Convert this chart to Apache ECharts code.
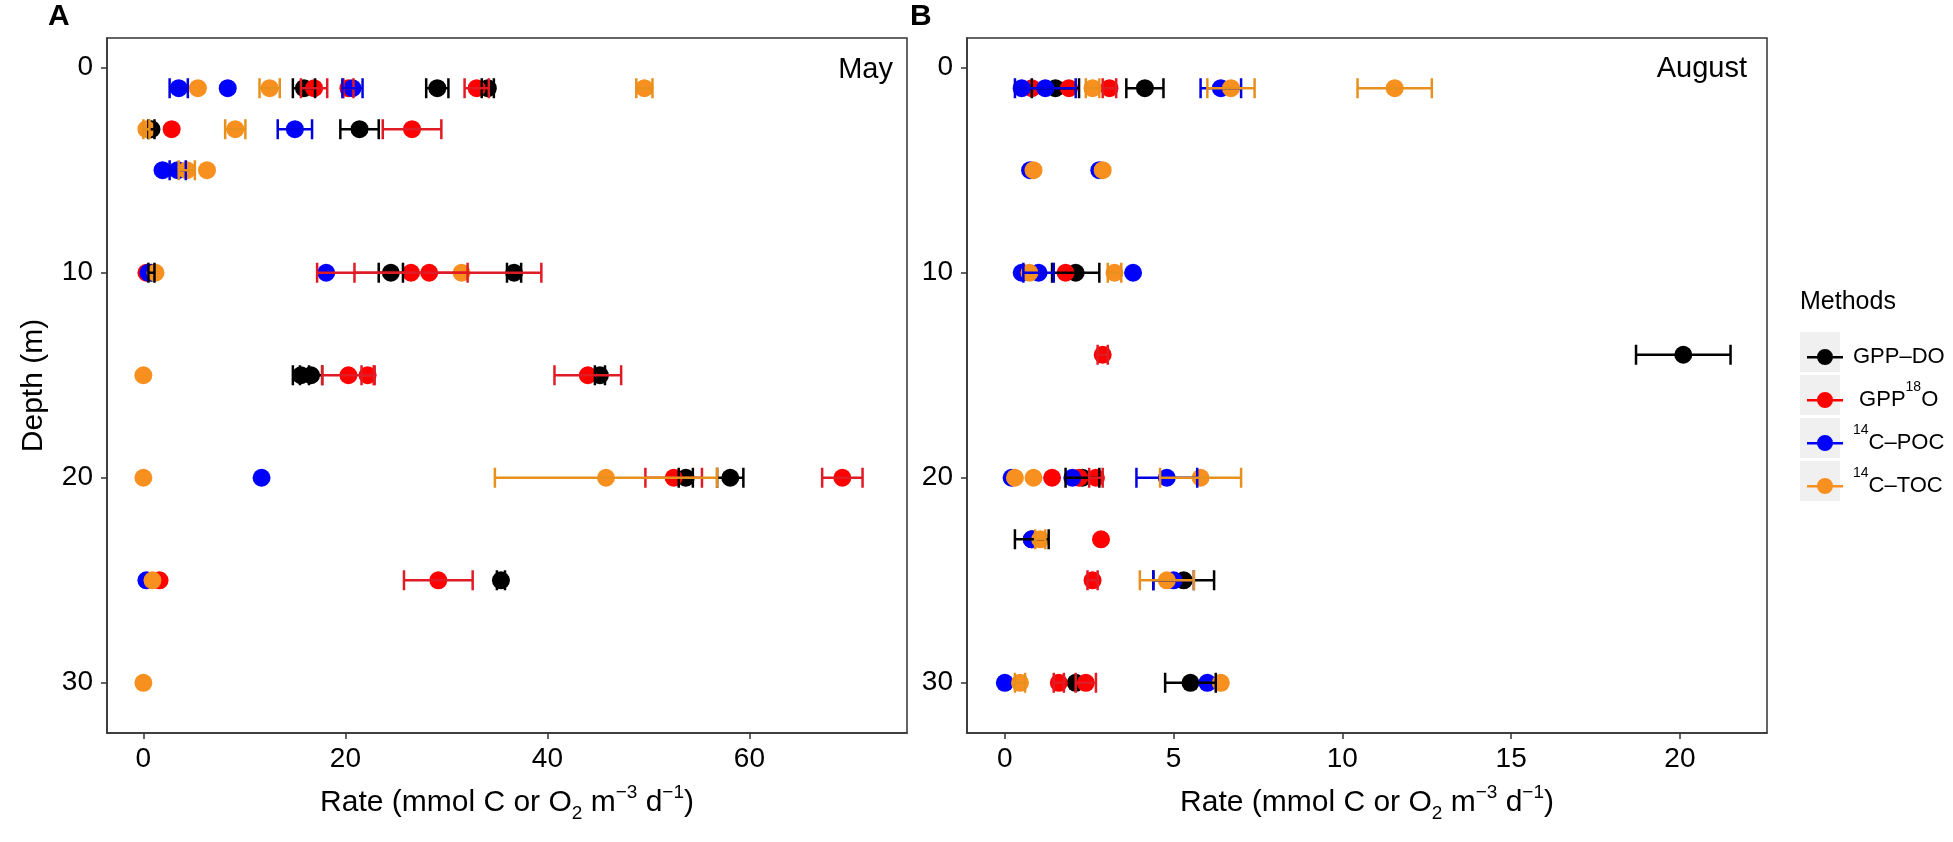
<!DOCTYPE html>
<html>
<head>
<meta charset="utf-8">
<script src="https://cdn.jsdelivr.net/npm/echarts@6/dist/echarts.min.js"></script>
<style>
html,body{margin:0;padding:0;background:#fff;}
#c{width:1953px;height:842px;}
</style>
</head>
<body>
<div id="c"></div>
<script>
// ---- data: [rate, depth, error half-width] ----
const methods = ['GPP-DO', 'GPP18O', '14C-POC', '14C-TOC'];
const methodColors = ['#000000', '#ff0000', '#0000ff', '#f7901e'];
const barColors = ['#000000', '#e01b24', '#0000e0', '#e8901e'];

const depthTicks = [0, 10, 20, 30];
const mayRateTicks = [0, 20, 40, 60];
const augRateTicks = [0, 5, 10, 15, 20];

const mayGppDO = [[15.9,1,1.1],[29.1,1,1.1],[34.1,1,0.6],[0.8,3,0.3],[21.4,3,1.9],[0.8,10,0.3],[24.5,10,1.2],[36.7,10,0.7],[15.6,15,0.8],[16.6,15,1.1],[45.2,15,0.5],[53.7,20,0.7],[58.1,20,1.3],[35.4,25,0.4]];
const mayGpp18O = [[16.9,1,1.3],[20.3,1,0.5],[33.0,1,1.2],[2.8,3,0],[26.6,3,2.9],[0.3,10,0],[26.5,10,5.6],[28.3,10,11.1],[20.3,15,2.6],[22.2,15,0.6],[44.0,15,3.3],[52.5,20,2.8],[69.2,20,2.0],[1.6,25,0],[29.2,25,3.4]];
const may14CPOC = [[3.5,1,0.9],[8.35,1,0],[20.7,1,1.0],[15.0,3,1.7],[1.9,5,0],[3.4,5,0.8],[0.5,10,0],[18.1,10,0],[11.7,20,0],[0.3,25,0]];
const may14CTOC = [[5.4,1,0],[12.5,1,1.0],[49.6,1,0.8],[0.3,3,0.3],[9.1,3,1.0],[4.3,5,0.8],[6.3,5,0],[1.2,10,0],[31.5,10,0],[0.0,15,0],[0.0,20,0],[45.8,20,11.0],[0.9,25,0],[0.0,30,0]];

const augGppDO = [[1.5,1,0.7],[4.15,1,0.55],[2.1,10,0.7],[20.1,14,1.4],[2.3,20,0.5],[0.8,23,0.5],[5.3,25,0.9],[2.1,30,0],[5.5,30,0.75]];
const augGpp18O = [[0.8,1,0],[1.9,1,0],[3.1,1,0.2],[1.8,10,0],[2.9,14,0.15],[1.4,20,0],[2.2,20,0],[2.7,20,0.2],[2.85,23,0],[2.6,25,0.15],[1.6,30,0.15],[2.4,30,0.3]];
const aug14CPOC = [[0.5,1,0],[1.2,1,0.9],[6.4,1,0.6],[0.75,5,0],[2.8,5,0],[0.5,10,0],[1.0,10,0.45],[3.8,10,0],[0.2,20,0],[2.0,20,0],[4.8,20,0.9],[0.8,23,0],[5.0,25,0.6],[0.0,30,0],[6.0,30,0]];
const aug14CTOC = [[2.6,1,0.2],[6.7,1,0.7],[11.55,1,1.1],[0.85,5,0],[2.9,5,0],[0.73,10,0],[3.25,10,0.2],[0.3,20,0],[0.85,20,0],[5.8,20,1.2],[1.05,23,0.15],[4.8,25,0.8],[0.45,30,0.15],[6.4,30,0]];

const mayData = [mayGppDO, mayGpp18O, may14CPOC, may14CTOC];
const augData = [augGppDO, augGpp18O, aug14CPOC, aug14CTOC];

// ---- chart ----
const FONT = 'Liberation Sans, Arial, sans-serif';
const chart = echarts.init(document.getElementById('c'), null, {renderer: 'canvas'});

function errRender(color) {
  return function (params, api) {
    const x = api.value(0), y = api.value(1), e = api.value(2);
    if (!e) return null;
    const p1 = api.coord([x - e, y]);
    const p2 = api.coord([x + e, y]);
    const h = 10;
    const st = {stroke: color, lineWidth: 2.5};
    return {type: 'group', children: [
      {type: 'line', shape: {x1: p1[0], y1: p1[1], x2: p2[0], y2: p2[1]}, style: st},
      {type: 'line', shape: {x1: p1[0], y1: p1[1] - h, x2: p1[0], y2: p1[1] + h}, style: st},
      {type: 'line', shape: {x1: p2[0], y1: p2[1] - h, x2: p2[0], y2: p2[1] + h}, style: st}
    ]};
  };
}

const series = [];
[mayData, augData].forEach(function (panel, pi) {
  panel.forEach(function (arr, mi) {
    series.push({
      type: 'scatter', name: methods[mi], xAxisIndex: pi, yAxisIndex: pi,
      symbol: 'circle', symbolSize: 18, z: 2,
      itemStyle: {color: methodColors[mi], opacity: 1},
      data: arr.map(function (d) { return [d[0], d[1]]; }),
      silent: true, animation: false
    });
  });
  panel.forEach(function (arr, mi) {
    series.push({
      type: 'custom', name: methods[mi], xAxisIndex: pi, yAxisIndex: pi, z: 3,
      renderItem: errRender(barColors[mi]),
      encode: {x: 0, y: 1},
      data: arr, silent: true, animation: false, clip: true
    });
  });
});

const tickStyle = {show: true, length: 6, lineStyle: {color: '#333', width: 1.5}};
const lineStyle = {show: true, onZero: false, lineStyle: {color: '#333', width: 1.5}};
const xName = '{n|Rate (mmol C or O}{b|2}{n| m}{s|\u22123}{n| d}{s|\u22121}{n|)}';
const nameRich = {
  n: {fontSize: 30, fontFamily: FONT, color: '#000', lineHeight: 40},
  s: {fontSize: 19, fontFamily: FONT, color: '#000', lineHeight: 28, verticalAlign: 'top'},
  b: {fontSize: 19, fontFamily: FONT, color: '#000', lineHeight: 28, verticalAlign: 'bottom'}
};

function xAxis(idx, min, max, ticks) {
  return {
    type: 'value', gridIndex: idx, min: min, max: max,
    axisLine: lineStyle,
    axisTick: Object.assign({customValues: ticks}, tickStyle),
    axisLabel: {customValues: ticks, fontSize: 28, fontFamily: FONT, color: '#000', margin: 12},
    splitLine: {show: false},
    name: xName, nameLocation: 'middle', nameGap: 50,
    nameTextStyle: {rich: nameRich}
  };
}
function yAxis(idx) {
  return {
    type: 'value', gridIndex: idx, inverse: true, min: -1.45, max: 32.45,
    axisLine: lineStyle,
    axisTick: Object.assign({customValues: depthTicks}, tickStyle),
    axisLabel: {customValues: depthTicks, fontSize: 28, fontFamily: FONT, color: '#000', margin: 14},
    splitLine: {show: false},
    name: idx === 0 ? 'Depth (m)' : '', nameLocation: 'middle', nameGap: 58,
    nameTextStyle: {fontSize: 30, fontFamily: FONT, color: '#000'}
  };
}

const legendTop = 332;
const legendGraphics = [];
for (let i = 0; i < 4; i++) {
  legendGraphics.push({type: 'rect', left: 1800, top: legendTop + i * 43, z: 0,
    shape: {width: 40, height: 40}, style: {fill: '#f0f0f0'}});
}

const option = {
  backgroundColor: '#fff',
  animation: false,
  grid: [
    {left: 107, top: 38, width: 800, height: 695, show: true, borderColor: '#333', borderWidth: 1.5, backgroundColor: 'rgba(0,0,0,0)'},
    {left: 967, top: 38, width: 800, height: 695, show: true, borderColor: '#333', borderWidth: 1.5, backgroundColor: 'rgba(0,0,0,0)'}
  ],
  xAxis: [xAxis(0, -3.6, 75.6, mayRateTicks), xAxis(1, -1.12, 22.58, augRateTicks)],
  yAxis: [yAxis(0), yAxis(1)],
  legend: {
    orient: 'vertical', left: 1802, top: legendTop, itemWidth: 36, itemHeight: 40, itemGap: 3,
    data: methods, selectedMode: false, z: 5,
    icon: 'path://M0,19 L36,19 L36,21.5 L0,21.5 Z M26,20 A8,8 0 1,1 10,20 A8,8 0 1,1 26,20 Z M18,0 L18.01,0 L18.01,0.01 Z M18,40 L18.01,40 L18.01,39.99 Z',
    formatter: function (name) {
      if (name === 'GPP-DO') return '{n|GPP\u2013DO}';
      if (name === 'GPP18O') return '{n| GPP}{s|18}{n|O}';
      if (name === '14C-POC') return '{s|14}{n|C\u2013POC}';
      return '{s|14}{n|C\u2013TOC}';
    },
    textStyle: {
      padding: [0, 0, 0, 5],
      rich: {
        n: {fontSize: 22, fontFamily: FONT, color: '#000', lineHeight: 40},
        s: {fontSize: 14, fontFamily: FONT, color: '#000', lineHeight: 28, verticalAlign: 'top'}
      }
    }
  },
  graphic: legendGraphics.concat([
    {type: 'text', left: 1800, top: 290, z: 5, style: {text: 'Methods', font: '25px ' + FONT, fill: '#000'}},
    {type: 'text', x: 48, y: 17, z: 5, style: {text: 'A', font: 'bold 30px ' + FONT, fill: '#000', textVerticalAlign: 'middle'}},
    {type: 'text', x: 910, y: 17, z: 5, style: {text: 'B', font: 'bold 30px ' + FONT, fill: '#000', textVerticalAlign: 'middle'}},
    {type: 'text', x: 893, y: 70, z: 5, style: {text: 'May', font: '29px ' + FONT, fill: '#000', textAlign: 'right', textVerticalAlign: 'middle'}},
    {type: 'text', x: 1747, y: 69, z: 5, style: {text: 'August', font: '29px ' + FONT, fill: '#000', textAlign: 'right', textVerticalAlign: 'middle'}}
  ]),
  series: series
};
chart.setOption(option);
</script>
</body>
</html>
